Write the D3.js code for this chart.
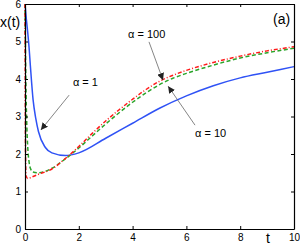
<!DOCTYPE html>
<html>
<head>
<meta charset="utf-8">
<script src="https://cdn.jsdelivr.net/npm/d3@7"></script>
<style>
  body { margin: 0; background: #fff; }
  svg { font-family: "Liberation Sans", Arial, sans-serif; }
  .axis text { font-size: 10px; fill: #000; }
</style>
</head>
<body>
<div id="chart"></div>
<script>
// values
const tBlue = [0, 0.05, 0.1, 0.15, 0.2, 0.3, 0.4, 0.5, 0.75, 1, 1.5, 2, 3, 4, 5, 6, 7, 8, 9, 10];
const xBlue = [6, 5.6, 5.25, 4.85, 4.35, 3.45, 2.95, 2.6, 2.18, 2.03, 1.96, 2.03, 2.42, 2.82, 3.22, 3.55, 3.82, 4.03, 4.18, 4.33];

const tGreen = [0, 0.02, 0.04, 0.07, 0.1, 0.15, 0.2, 0.3, 0.5, 1, 1.5, 2, 2.5, 3, 3.5, 4, 4.5, 5, 5.5, 6, 7, 8, 9, 10];
const xGreen = [6, 4.6, 3.6, 2.7, 2.2, 1.8, 1.62, 1.52, 1.5, 1.62, 1.87, 2.16, 2.48, 2.8, 3.1, 3.38, 3.63, 3.85, 4.02, 4.15, 4.37, 4.56, 4.7, 4.82];

const tRed = [0, 0.01, 0.02, 0.04, 0.1, 0.3, 0.5, 1, 1.5, 2, 2.5, 3, 3.5, 4, 4.5, 5, 5.5, 6, 7, 8, 9, 10];
const xRed = [6, 3.5, 2.0, 1.42, 1.35, 1.4, 1.46, 1.6, 1.88, 2.2, 2.55, 2.88, 3.18, 3.46, 3.72, 3.94, 4.1, 4.23, 4.44, 4.61, 4.75, 4.86];

const xTicks = [0, 2, 4, 6, 8, 10];
const yTicks = [0, 1, 2, 3, 4, 5, 6];

// annotation labels and arrows, in data units
const labels = ['α = 1', 'α = 100', 'α = 10'];
const labelPos = [[1.78, 3.81], [3.83, 5.09], [6.32, 2.45]];
const arrowFrom = [[1.64, 3.57], [4.61, 4.99], [6.32, 2.77]];
const arrowTo = [[0.59, 2.64], [5.13, 3.97], [5.32, 3.81]];

const W = 300, H = 245;
const margin = { left: 25, top: 4, right: 6, bottom: 16 };
const width = W - margin.left - margin.right;
const height = H - margin.top - margin.bottom;

const svg = d3.select('#chart').append('svg')
    .attr('width', W)
    .attr('height', H);

svg.append('defs').append('marker')
    .attr('id', 'head')
    .attr('viewBox', '0 0 10 10')
    .attr('refX', 10)
    .attr('refY', 5)
    .attr('markerWidth', 7)
    .attr('markerHeight', 7)
    .attr('markerUnits', 'userSpaceOnUse')
    .attr('orient', 'auto')
    .append('path')
    .attr('d', 'M0,0 L10,5 L0,10 z')
    .attr('fill', '#222');

const g = svg.append('g')
    .attr('transform', `translate(${margin.left},${margin.top})`);

const xScale = d3.scaleLinear().domain([0, 10]).range([0, width]);
const yScale = d3.scaleLinear().domain([0, 6]).range([height, 0]);

const line = d3.line()
    .x(d => xScale(d[0]))
    .y(d => yScale(d[1]))
    .curve(d3.curveMonotoneX);

const zip = (a, b) => a.map((v, i) => [v, b[i]]);

g.append('path')
    .datum(zip(tBlue, xBlue))
    .attr('d', line)
    .attr('fill', 'none')
    .attr('stroke', '#2f52f5')
    .attr('stroke-width', 1.5);

g.append('path')
    .datum(zip(tGreen, xGreen))
    .attr('d', line)
    .attr('fill', 'none')
    .attr('stroke', '#2aa52a')
    .attr('stroke-width', 1.5)
    .attr('stroke-dasharray', '4,2.5');

g.append('path')
    .datum(zip(tRed, xRed))
    .attr('d', line)
    .attr('fill', 'none')
    .attr('stroke', '#ff1a1a')
    .attr('stroke-width', 1.5)
    .attr('stroke-dasharray', '4,2,1,2');

// frame with inward ticks on all sides
const fmt = d3.format('d');
const xAxis = d3.axisBottom(xScale).tickValues(xTicks).tickFormat(fmt).tickSizeInner(-3).tickSizeOuter(0).tickPadding(5);
const yAxis = d3.axisLeft(yScale).tickValues(yTicks).tickFormat(fmt).tickSizeInner(-3).tickSizeOuter(0).tickPadding(4);

g.append('g')
    .attr('class', 'axis')
    .attr('transform', `translate(0,${height})`)
    .call(xAxis);

g.append('g')
    .attr('class', 'axis')
    .call(yAxis);

g.append('g')
    .attr('class', 'axis')
    .call(d3.axisTop(xScale).tickValues(xTicks).tickSizeInner(-3).tickSizeOuter(0).tickFormat(''));

g.append('g')
    .attr('class', 'axis')
    .attr('transform', `translate(${width},0)`)
    .call(d3.axisRight(yScale).tickValues(yTicks).tickSizeInner(-3).tickSizeOuter(0).tickFormat(''));

g.selectAll('.axis path, .axis line').attr('stroke', '#000');
g.selectAll('.axis .domain').attr('stroke-width', 1.2);

// annotations
labels.forEach((lab, i) => {
    g.append('line')
        .attr('x1', xScale(arrowFrom[i][0]))
        .attr('y1', yScale(arrowFrom[i][1]))
        .attr('x2', xScale(arrowTo[i][0]))
        .attr('y2', yScale(arrowTo[i][1]))
        .attr('stroke', '#666')
        .attr('stroke-width', 0.8)
        .attr('marker-end', 'url(#head)');

    g.append('text')
        .attr('x', xScale(labelPos[i][0]))
        .attr('y', yScale(labelPos[i][1]))
        .style('font-size', '11px')
        .text(lab);
});

svg.append('text')
    .attr('x', 0)
    .attr('y', 27)
    .style('font-size', '14px')
    .text('x(t)');

svg.append('text')
    .attr('x', 273)
    .attr('y', 24)
    .style('font-size', '14px')
    .text('(a)');

svg.append('text')
    .attr('x', 266)
    .attr('y', 243)
    .style('font-size', '14px')
    .text('t');
</script>
</body>
</html>
